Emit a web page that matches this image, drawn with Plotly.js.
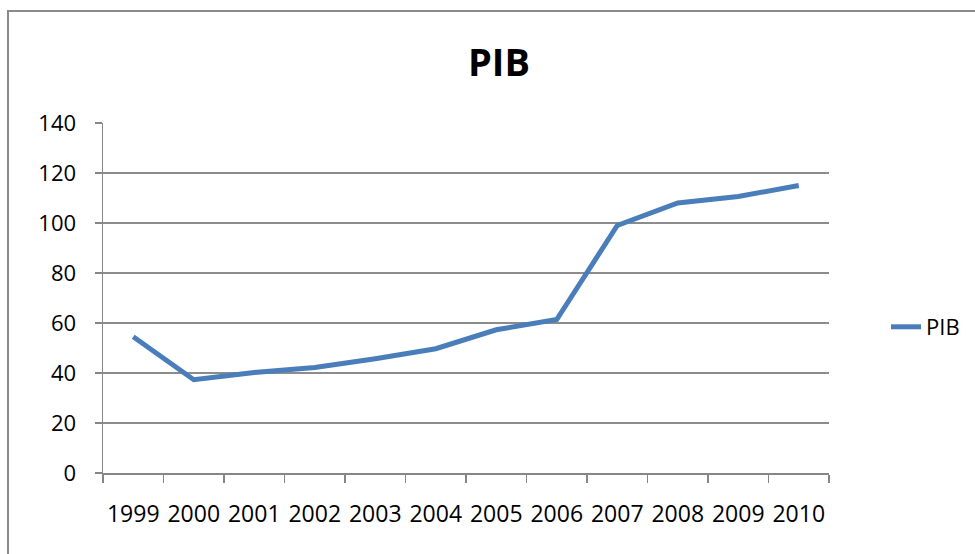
<!DOCTYPE html>
<html>
<head>
<meta charset="utf-8">
<script src="https://cdn.plot.ly/plotly-3.0.1.min.js"></script>
<style>html,body{margin:0;padding:0;background:#fff;}#chart{width:975px;height:554px;}</style>
</head>
<body>
<div id="chart"></div>
<script>
const years = ['1999','2000','2001','2002','2003','2004','2005','2006','2007','2008','2009','2010'];
const pib = [54.5, 37.3, 40.2, 42.2, 45.7, 49.7, 57.3, 61.4, 99, 108, 110.6, 115];
const seriesName = 'PIB';
const chartTitle = 'PIB';
const yTicks = [0, 20, 40, 60, 80, 100, 120, 140];

const font = 'Open Sans, sans-serif';
const gray = '#868686';

const trace = {
  x: years, y: pib, name: seriesName, type: 'scatter', mode: 'lines',
  line: {color: '#4a7ebb', width: 5}
};

const L = 103, R = 146, T = 123, B = 81;
const W = 975 - L - R, H = 554 - T - B;
const px = v => (v - L) / W;
const py = v => (554 - B - v) / H;

const layout = {
  width: 975, height: 554,
  margin: {l: L, r: R, t: T, b: B, autoexpand: false},
  paper_bgcolor: '#fff', plot_bgcolor: '#fff',
  font: {family: font, size: 22, color: '#000'},
  title: {text: chartTitle, font: {family: font, size: 38, color: '#000', weight: 'bold'},
          x: px(499), xref: 'paper', xanchor: 'center', y: 1 - 63/554, yanchor: 'middle'},
  showlegend: true,
  legend: {x: px(886), y: py(327), xanchor: 'left', yanchor: 'middle', font: {family: font, size: 22}, bgcolor: 'rgba(0,0,0,0)'},
  xaxis: {
    type: 'category', range: [-0.5, years.length - 0.5], tickson: 'boundaries', ticks: 'outside', ticklen: 8, tickcolor: gray, tickwidth: 1.5,
    showline: true, linecolor: gray, linewidth: 1.5, showgrid: false, zeroline: false, tickangle: 0, automargin: false,
    tickfont: {family: font, size: 23}, ticklabelstandoff: 20, fixedrange: true
  },
  yaxis: {
    range: [0, 140], tickvals: yTicks, ticktext: yTicks.map(String),
    ticks: 'outside', ticklen: 7, tickcolor: gray, tickwidth: 1.5,
    showline: true, linecolor: gray, linewidth: 1.5, automargin: false,
    showgrid: true, gridcolor: '#8c8c8c', gridwidth: 1.2, zeroline: false,
    tickfont: {family: font, size: 22}, ticklabelstandoff: 14, fixedrange: true
  },
  shapes: [{
    type: 'rect', xref: 'paper', yref: 'paper',
    x0: px(8), x1: px(990), y0: py(570), y1: py(11),
    line: {color: '#8a8a8a', width: 2}, fillcolor: 'rgba(0,0,0,0)', layer: 'below'
  }]
};

Plotly.newPlot('chart', [trace], layout, {displayModeBar: false, staticPlot: true});
</script>
</body>
</html>
